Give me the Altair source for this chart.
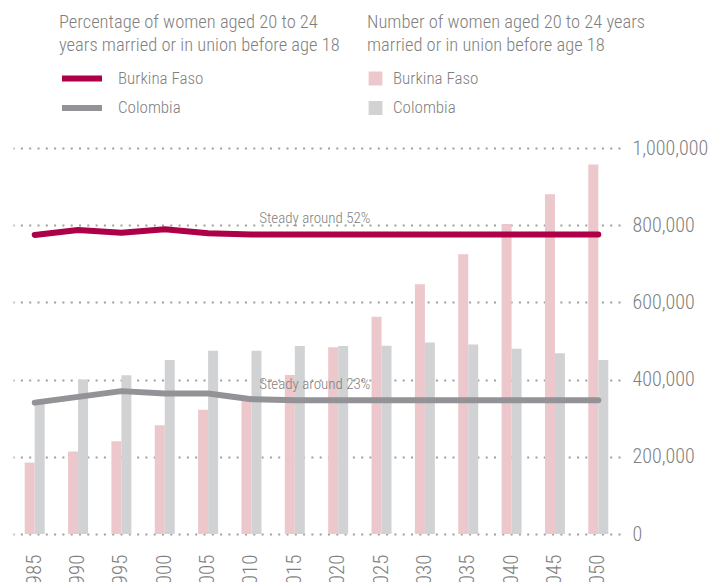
import altair as alt
import pandas as pd

years = [str(y) for y in range(1985, 2055, 5)]
countries = ["Burkina Faso", "Colombia"]

# Number of women aged 20-24 married before 18
bf_count = [185000, 214000, 240000, 282000, 322000, 355000, 412000,
            484000, 563000, 647000, 725000, 803000, 880000, 957000]
co_count = [340000, 400000, 411000, 451000, 475000, 475000, 487000,
            487000, 488000, 496000, 491000, 480000, 468000, 451000]

# Percentage of women aged 20-24 married before 18
bf_pct = [51.9, 52.75, 52.3, 52.9, 52.2, 52.0, 52.0,
          52.0, 52.0, 52.0, 52.0, 52.0, 52.0, 52.0]
co_pct = [22.8, 23.8, 24.8, 24.4, 24.4, 23.4, 23.2,
          23.2, 23.2, 23.2, 23.2, 23.2, 23.2, 23.2]

note_year = ["2015", "2015"]
note_pct = [52.0, 23.2]
note_text = ["Steady around 52%", "Steady around 23%"]

count_ticks = [0, 200000, 400000, 600000, 800000, 1000000]
pct_domain = [0, 67]

bars_df = pd.DataFrame({
    "year": years * 2,
    "country": [countries[0]] * len(years) + [countries[1]] * len(years),
    "count": bf_count + co_count,
})
lines_df = pd.DataFrame({
    "year": years * 2,
    "country": [countries[0]] * len(years) + [countries[1]] * len(years),
    "pct": bf_pct + co_pct,
})
notes_df = pd.DataFrame({"year": note_year, "pct": note_pct, "text": note_text})

FONT = "Roboto Condensed, Roboto, sans-serif"
GRAY = "#7f7f80"
W = 300

x_enc = alt.X(
    "year:N",
    sort=years,
    scale=alt.Scale(paddingInner=0.539, paddingOuter=0.27),
    axis=alt.Axis(
        title=None, labelAngle=-90, ticks=False, domain=False, grid=False,
        labelPadding=20, labelFontSize=21, labelColor=GRAY, labelFont=FONT,
        labelFontWeight=W,
    ),
)

legend_common = dict(
    orient="none", legendY=-135, padding=0, clipHeight=18, rowPadding=11.5,
    titlePadding=15, titleFont=FONT, titleFontSize=18.5, titleFontWeight=W,
    titleColor=GRAY, titleLineHeight=23, titleLimit=400,
    labelFont=FONT, labelFontSize=17, labelColor=GRAY, labelFontWeight=W,
)

bars = alt.Chart(bars_df).mark_bar().encode(
    x=x_enc,
    xOffset=alt.XOffset("country:N", sort=countries, scale=alt.Scale(paddingInner=0, paddingOuter=0)),
    y=alt.Y(
        "count:Q",
        scale=alt.Scale(domain=[0, 1000000], nice=False),
        axis=alt.Axis(
            orient="right", title=None, values=count_ticks, format=",d",
            ticks=False, domain=False, grid=True, gridDash=[2, 6.3],
            gridWidth=2, gridColor="#a0a0a0", labelPadding=12,
            labelFontSize=20, labelColor=GRAY, labelFont=FONT,
            labelFontWeight=W, labelBaseline="middle",
        ),
    ),
    fill=alt.Fill(
        "country:N",
        scale=alt.Scale(domain=countries, range=["#ecc7cb", "#d1d2d4"]),
        legend=alt.Legend(
            title=["Number of women aged 20 to 24 years", "married or in union before age 18"],
            legendX=354, symbolType="square", symbolSize=190, symbolStrokeWidth=0,
            symbolOpacity=1, labelOffset=9, **legend_common,
        ),
    ),
)

lines = alt.Chart(lines_df).mark_line(strokeWidth=6, strokeCap="round", strokeJoin="round").encode(
    x=alt.X("year:N", sort=years),
    y=alt.Y("pct:Q", scale=alt.Scale(domain=pct_domain, nice=False), axis=None),
    stroke=alt.Stroke(
        "country:N",
        scale=alt.Scale(range=["#ad0046", "#939397"]),
        legend=alt.Legend(
            title=["Percentage of women aged 20 to 24", "years married or in union before age 18"],
            legendX=46, symbolType="stroke", symbolSize=1600, symbolStrokeWidth=6,
            labelOffset=13, **legend_common,
        ),
    ),
    detail="country:N",
)

notes = alt.Chart(notes_df).mark_text(
    font=FONT, fontSize=15, fontWeight=W, color=GRAY, dx=20, dy=-11,
    baseline="alphabetic", align="center",
).encode(
    x=alt.X("year:N", sort=years),
    y=alt.Y("pct:Q", scale=alt.Scale(domain=pct_domain, nice=False), axis=None),
    text="text:N",
)

upper = alt.layer(lines, notes)

chart = alt.layer(bars, upper).resolve_scale(y="independent").properties(
    width=607,
    height=386,
    autosize=alt.AutoSizeParams(type="none"),
    padding={"left": 5, "top": 140, "right": 90, "bottom": 48},
).configure(font=FONT).configure_view(stroke=None)

chart.save("out.html", embed_options={"renderer": "svg", "actions": False})
